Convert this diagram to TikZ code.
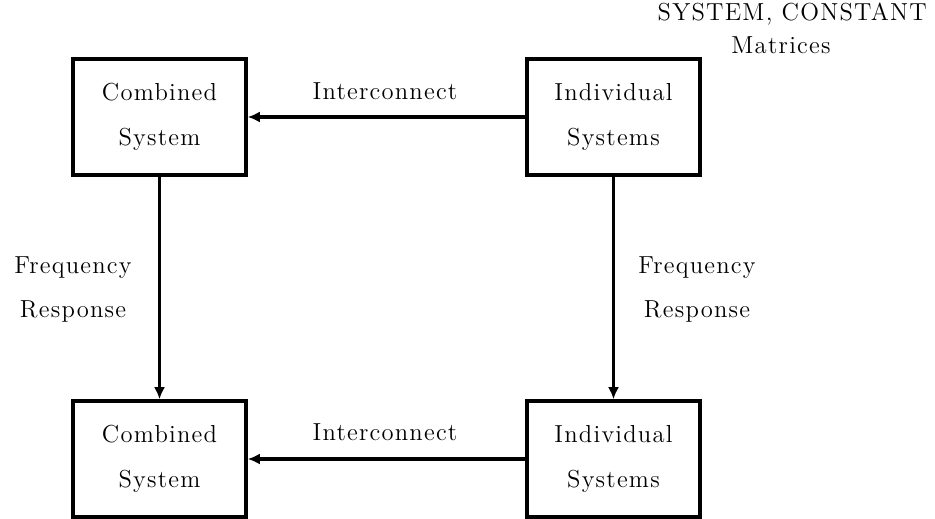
\documentclass[tikz,border=0pt]{standalone}
\usepackage{fontspec}
\setmainfont{Latin Modern Roman}[LetterSpace=5]
\usetikzlibrary{arrows.meta}
\tikzset{
  block/.style={draw,line width=2pt,minimum width=3.46cm,minimum height=2.32cm,align=center,font=\fontsize{14}{26}\selectfont},
  lbl/.style={align=center,font=\fontsize{14}{25}\selectfont},
  flow/.style={line width=2pt,-{Latex[length=0.24cm,width=0.22cm]}}
}
\begin{document}
\begin{tikzpicture}
				\useasboundingbox (0,0) rectangle (18.7,10.36);
				\node[block] (cs1) at (3.19,8.02) {Combined\\System};
				\node[block] (is1) at (12.27,8.02) {Individual\\Systems};
				\node[block] (cs2) at (3.19,1.18) {Combined\\System};
				\node[block] (is2) at (12.27,1.18) {Individual\\Systems};
				\draw[flow] (is1) -- (cs1);
				\draw[flow] (is2) -- (cs2);
				\draw[flow] (cs1) -- (cs2);
				\draw[flow] (is1) -- (is2);
				\node[lbl] (ic1) at (7.7,8.54) {Interconnect};
				\node[lbl] (ic2) at (7.7,1.72) {Interconnect};
				\node[lbl] (fr1) at (1.46,4.57) {Frequency\\Response};
				\node[lbl] (fr2) at (13.94,4.57) {Frequency\\Response};
				\node[lbl,anchor=east] (sc) at (18.66,10.08) {SYSTEM, CONSTANT};
				\node[lbl] (mx) at (15.62,9.46) {Matrices};
			\end{tikzpicture}
\end{document}
